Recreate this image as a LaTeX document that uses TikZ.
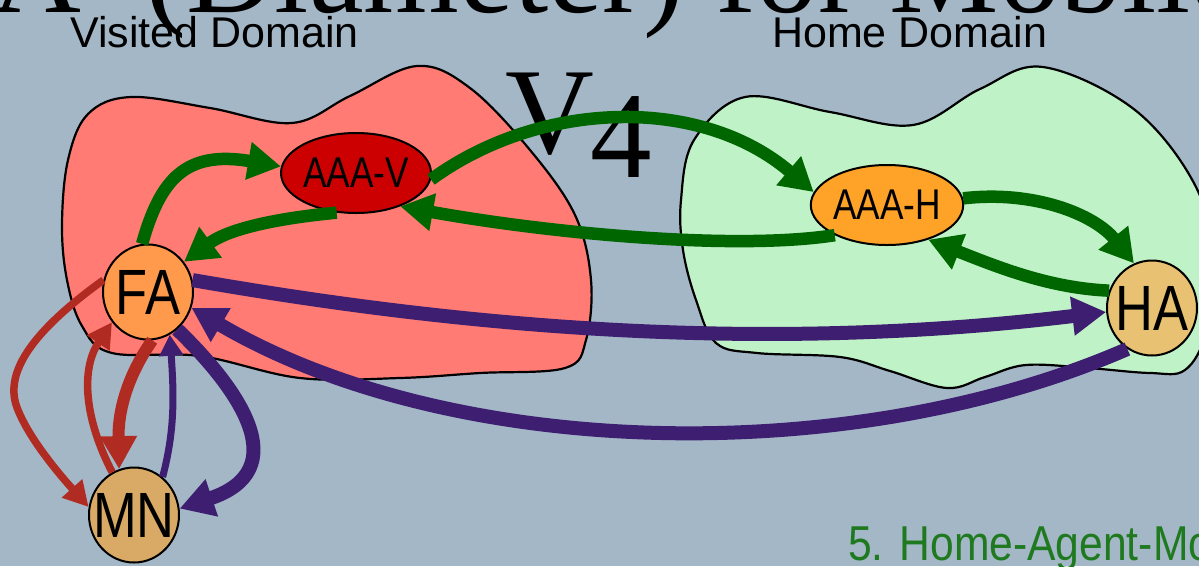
\documentclass[tikz,border=0pt]{standalone}
\usepackage{fontspec}
\setmainfont{Liberation Serif}
\newfontfamily\domainfont{Liberation Sans}
\newfontfamily\narrowfont[FakeStretch=0.82]{Liberation Sans}
\newfontfamily\notefont[FakeStretch=0.87]{Liberation Sans}
\usetikzlibrary{arrows.meta,shapes.geometric}

% label that does not widen its ellipse
\newcommand\zwlabel[1]{\makebox[0pt]{#1}}

\definecolor{bgblue}{HTML}{A4B7C7}
\definecolor{visitfill}{HTML}{FF7B74}
\definecolor{homefill}{HTML}{C0F2C8}
\definecolor{aaavfill}{HTML}{CC0000}
\definecolor{aaahfill}{HTML}{FFA228}
\definecolor{fafill}{HTML}{FF9A4C}
\definecolor{mnfill}{HTML}{D9AA66}
\definecolor{hafill}{HTML}{E8C272}
\definecolor{diamgreen}{HTML}{006600}
\definecolor{mipviolet}{HTML}{3D1E70}
\definecolor{regred}{HTML}{B02C22}
\definecolor{notegreen}{HTML}{1F7A1F}

\tikzset{
  domaincloud/.style={draw=black, line width=2.2pt},
  titletext/.style={inner sep=0pt, font=\fontsize{123}{123}\selectfont},
  domainlabel/.style={inner sep=0pt, anchor=base west, font=\domainfont\fontsize{43}{43}\selectfont},
  aaabox/.style={ellipse, draw=black, line width=2pt, inner sep=0pt,
    minimum width=150pt, minimum height=80pt, font=\narrowfont\fontsize{43}{43}\selectfont},
  agent/.style={ellipse, draw=black, line width=2pt, inner sep=0pt,
    minimum width=90pt, minimum height=95pt, font=\narrowfont\fontsize{64}{64}\selectfont},
  diam/.style={draw=diamgreen, line width=12.5pt, -{Triangle[length=33pt,width=36pt]}},
  mipbig/.style={draw=mipviolet, line width=14pt, -{Triangle[length=34pt,width=37pt]}},
  mipthin/.style={draw=mipviolet, line width=7pt, -{Triangle[length=21pt,width=23pt]}},
  regthin/.style={draw=regred, line width=7.5pt, -{Triangle[length=25pt,width=26pt]}},
  regbig/.style={draw=regred, line width=12pt, -{Triangle[length=33pt,width=35pt]}},
}

\begin{document}
\begin{tikzpicture}[x=1pt, y=-1pt]
  \useasboundingbox (0,0) rectangle (1199,566);
  \clip (0,0) rectangle (1199,566);
  \fill[bgblue] (0,0) rectangle (1199,566);

  % visited domain
  \draw[domaincloud, fill=visitfill] plot[smooth cycle, tension=0.6] coordinates {
    (62,225) (68,160) (88,114) (131,97) (210,108) (292,123) (350,96) (417,66)
    (470,88) (530,150) (575,215) (591,280) (586,340) (565,368) (480,373)
    (400,378) (300,378) (200,356) (112,353) (82,326) (67,280)};

  % home domain
  \draw[domaincloud, fill=homefill] plot[smooth cycle, tension=0.6] coordinates {
    (681,200) (694,140) (745,97) (830,112) (913,125) (980,89) (1043,67)
    (1135,110) (1196,187) (1212,262) (1206,332) (1185,370) (1150,373)
    (1088,368) (1026,365) (985,377) (947,388) (890,371) (840,357) (757,353)
    (716,343) (696,300) (683,250)};

  % headings
  \node[titletext, anchor=base east] (title-a) at (82,12) {AAA};
  \node[titletext, anchor=base west] (title-b) at (145,12) {(Diameter) for Mobile IP};
  \node[titletext, anchor=base west] (title-c) at (505,153) {V\kern-4pt\raisebox{-24pt}{4}};
  \node[domainlabel] (visited) at (70,47) {Visited Domain};
  \node[domainlabel] (home) at (772,47) {Home Domain};
  \node[inner sep=0pt, anchor=base west, text=notegreen,
        font=\notefont\fontsize{49}{49}\selectfont] (step5) at (848,560) {5. Home-Agent-Mobile};

  % entities
  \node[aaabox, fill=aaavfill] (AAAV) at (356,173) {AAA-V};
  \node[aaabox, fill=aaahfill] (AAAH) at (887,205) {AAA-H};
  \node[agent, fill=fafill] (FA) at (148,292) {\zwlabel{FA}};
  \node[agent, fill=mnfill] (MN) at (134,515) {\zwlabel{MN}};
  \node[agent, fill=hafill] (HA) at (1152,308) {\zwlabel{HA}};

  % AAA signalling
  \draw[diam] (FA.97) .. controls (160,180) and (185,150) .. (AAAV.175);
  \draw[diam] (AAAV.-116) .. controls (280,218) and (230,228) .. (FA.40);
  \draw[diam] (AAAV.-5) .. controls (540,100) and (700,95) .. (AAAH.170);
  \draw[diam] (AAAH.-150) .. controls (740,250) and (560,235) .. (AAAV.-37);
  \draw[diam] (AAAH.5) .. controls (1035,190) and (1095,215) .. (HA.112);
  \draw[diam] (HA.158) .. controls (1050,288) and (1000,268) .. (AAAH.-40);

  % mobile IP messages
  \draw[mipbig] (FA.15) .. controls (450,325) and (750,355) .. (HA.185);
  \draw[mipbig] (HA.-121) .. controls (850,470) and (450,460) .. (FA.-20);
  \draw[mipbig] (FA.-52) .. controls (240,390) and (295,470) .. (MN.8);
  \draw[mipthin] (MN.53) .. controls (175,430) and (174,395) .. (FA.-63);

  % registration exchange
  \draw[regthin] (FA.165) .. controls (20,340) and (5,380) .. (18,410)
                 .. controls (30,440) and (60,475) .. (MN.170);
  \draw[regthin] (MN.117) .. controls (85,420) and (80,370) .. (FA.-140);
  \draw[regbig] (FA.-85) .. controls (128,375) and (118,410) .. (MN.108);
\end{tikzpicture}
\end{document}
